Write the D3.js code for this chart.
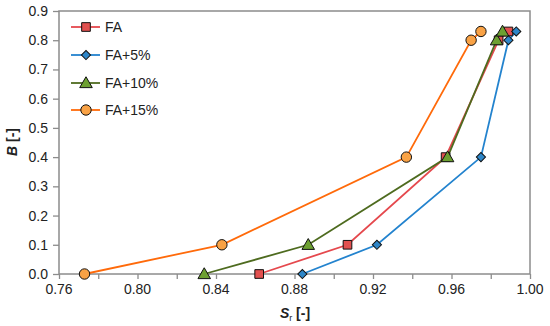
<!DOCTYPE html>
<html><head><meta charset="utf-8">
<script src="https://cdn.jsdelivr.net/npm/d3@7"></script>
<style>body{margin:0;background:#fff}svg{display:block}text{font-family:"Liberation Sans",Arial,sans-serif}</style>
</head><body><svg id="c" width="550" height="326"></svg>
<script>
const seriesNames = ["FA","FA+5%","FA+10%","FA+15%"];
const srFA   = [0.862,0.907,0.957,0.984,0.989];
const bFA    = [0.00,0.10,0.40,0.80,0.83];
const sr5    = [0.884,0.922,0.975,0.989,0.993];
const b5     = [0.00,0.10,0.40,0.80,0.83];
const sr10   = [0.834,0.887,0.958,0.983,0.986];
const b10    = [0.00,0.10,0.40,0.80,0.83];
const sr15   = [0.773,0.843,0.937,0.970,0.975];
const b15    = [0.00,0.10,0.40,0.80,0.83];
const xTicks = [0.76,0.80,0.84,0.88,0.92,0.96,1.00];
const xMinorTicks = [0.76,0.78,0.80,0.82,0.84,0.86,0.88,0.90,0.92,0.94,0.96,0.98,1.00];
const yTicks = [0.0,0.1,0.2,0.3,0.4,0.5,0.6,0.7,0.8,0.9];

const styles = [
 {line:"#E5484D", fill:"#E2504F", shape:d3.symbolSquare, size:75, rot:0},
 {line:"#2383CE", fill:"#2E86C8", shape:d3.symbolSquare, size:42, rot:45},
 {line:"#4E6B1F", fill:"#6DA031", shape:d3.symbolTriangle, size:68, rot:0},
 {line:"#FF6A0A", fill:"#F9A245", shape:d3.symbolCircle, size:85, rot:0}
];
const data = [[srFA,bFA],[sr5,b5],[sr10,b10],[sr15,b15]].map((p,i)=>({
  name:seriesNames[i], pts:p[0].map((x,j)=>({x, y:p[1][j]}))
}));

const svg = d3.select("#c");
const L=59, R=530, T=11, B=274;
const x = d3.scaleLinear().domain([0.76,1.00]).range([L,R]);
const y = d3.scaleLinear().domain([0,0.9]).range([B,T]);

svg.append("rect").attr("x",L).attr("y",T).attr("width",R-L).attr("height",B-T)
  .attr("fill","none").attr("stroke","#8c8c8c").attr("stroke-width",1.5);

const gx = svg.append("g").attr("transform",`translate(0,${B})`);
gx.call(d3.axisBottom(x).tickValues(xMinorTicks).tickSize(5).tickFormat(""));
gx.call(g=>{g.select(".domain").remove(); g.selectAll("line").attr("stroke","#8c8c8c").attr("stroke-width",1.3);});
xTicks.forEach(t=>{
  gx.append("text").attr("x",x(t)).attr("y",20).attr("text-anchor","middle")
    .attr("font-size",14).attr("fill","#222").text(d3.format(".2f")(t));
});
const gy = svg.append("g").attr("transform",`translate(${L},0)`);
gy.call(d3.axisLeft(y).tickValues(yTicks).tickSize(6).tickFormat(d3.format(".1f")));
gy.call(g=>{g.select(".domain").remove(); g.selectAll("line").attr("stroke","#8c8c8c").attr("stroke-width",1.3);
  g.selectAll("text").attr("font-size",14).attr("fill","#222").attr("font-family","Liberation Sans, Arial, sans-serif").attr("x",-11);});

const xt = svg.append("text").attr("x",295).attr("y",318).attr("text-anchor","middle").attr("font-size",14).attr("font-weight","bold").attr("fill","#222");
xt.append("tspan").attr("font-style","italic").text("S");
xt.append("tspan").attr("font-size",9).attr("dy",3).attr("font-weight","normal").text("r");
xt.append("tspan").attr("dy",-3).text(" [-]");
const yt = svg.append("text").attr("transform","translate(17,142) rotate(-90)").attr("text-anchor","middle").attr("font-size",14).attr("font-weight","bold").attr("fill","#222");
yt.append("tspan").attr("font-style","italic").text("B");
yt.append("tspan").text(" [-]");

const line = d3.line().x(d=>x(d.x)).y(d=>y(d.y));
data.forEach((s,i)=>{
  svg.append("path").datum(s.pts).attr("d",line).attr("fill","none")
    .attr("stroke",styles[i].line).attr("stroke-width",1.8);
});
data.forEach((s,i)=>{
  const sym = d3.symbol().type(styles[i].shape).size(styles[i].size);
  svg.append("g").selectAll("path").data(s.pts).join("path")
    .attr("d",sym).attr("transform",d=>`translate(${x(d.x)},${y(d.y)+(i===2?1:0)}) rotate(${styles[i].rot})`)
    .attr("fill",styles[i].fill).attr("stroke","#111").attr("stroke-width",1);
});

const legY = [27,55,83,110];
data.forEach((s,i)=>{
  const g = svg.append("g").attr("transform",`translate(0,${legY[i]})`);
  g.append("line").attr("x1",71).attr("x2",100).attr("y1",0).attr("y2",0).attr("stroke",styles[i].line).attr("stroke-width",1.8);
  g.append("path").attr("d",d3.symbol().type(styles[i].shape).size(styles[i].size)).attr("transform",`translate(86,${i===2?1:0}) rotate(${styles[i].rot})`)
    .attr("fill",styles[i].fill).attr("stroke","#111").attr("stroke-width",1);
  g.append("text").attr("x",105).attr("y",5).attr("font-size",14).attr("fill","#222").text(s.name);
});
</script></body></html>
